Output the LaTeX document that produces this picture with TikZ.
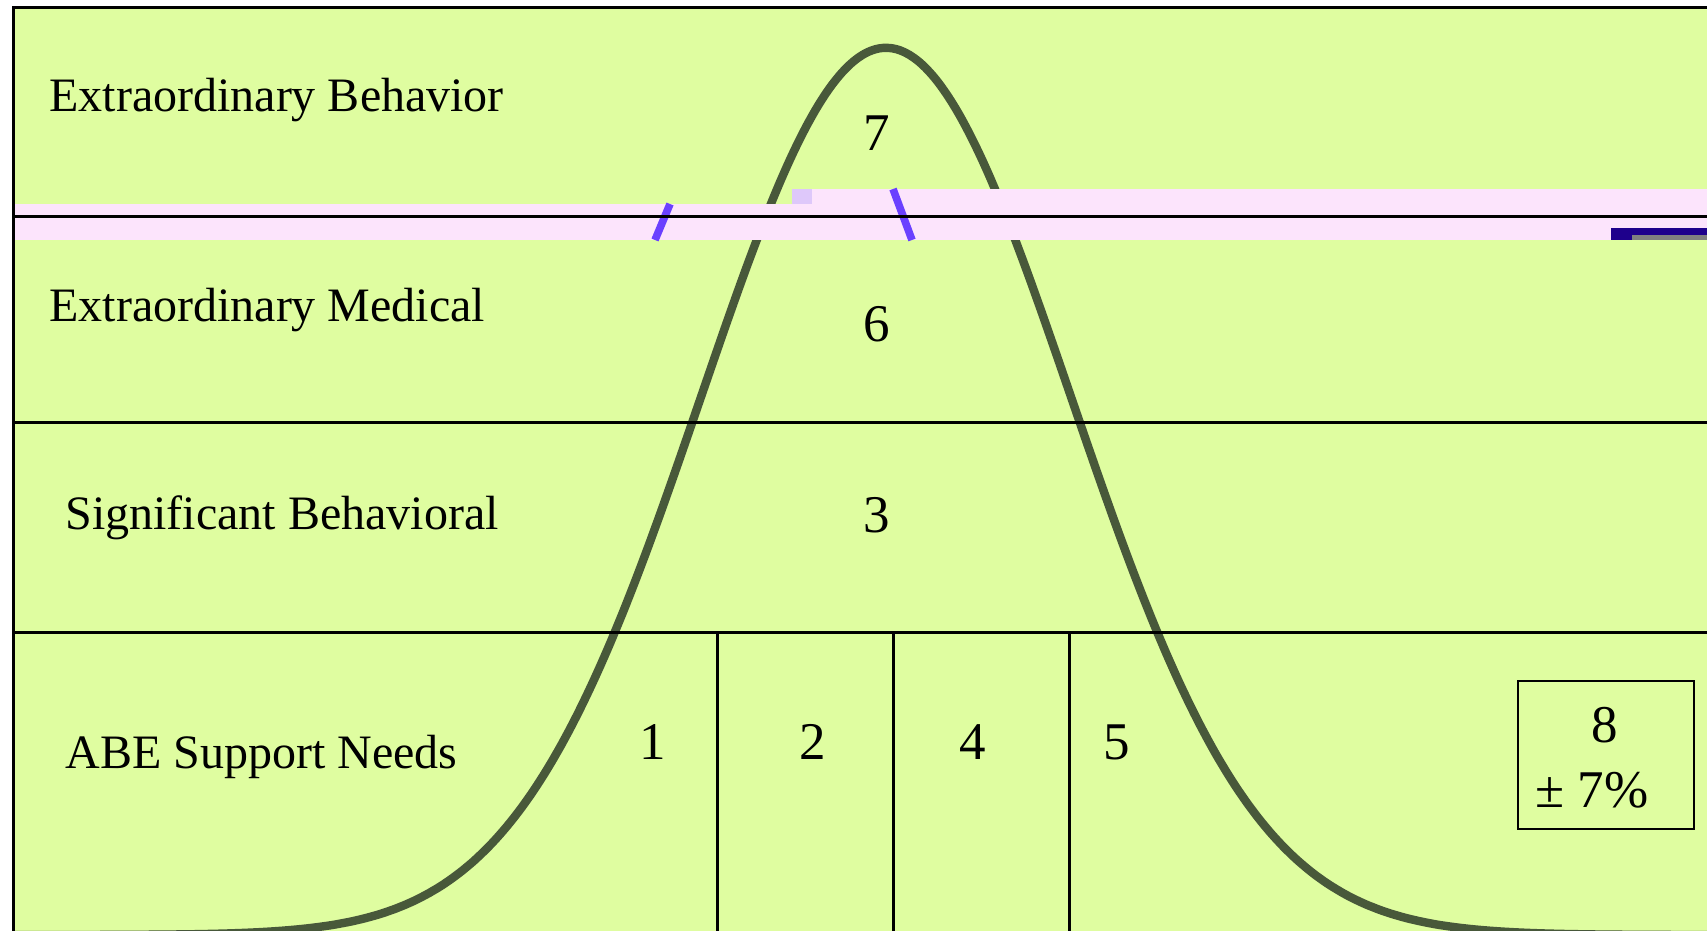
\documentclass[tikz,border=0pt]{standalone}
\usepackage{fontspec}
\setmainfont{Liberation Serif}
\definecolor{bggreen}{RGB}{223,253,160}
\definecolor{bandpink}{RGB}{252,228,252}
\definecolor{curvecol}{RGB}{72,88,58}
\definecolor{bluecurve}{RGB}{106,64,255}
\definecolor{lilac}{RGB}{222,200,250}
\definecolor{darkblue}{RGB}{30,0,140}
\begin{document}
\begin{tikzpicture}[x=0.5pt,y=-0.5pt,
  lbl/.style={anchor=base west, inner sep=0, font=\fontsize{24}{28}\selectfont},
  num/.style={anchor=base, inner sep=0, font=\fontsize{26.5}{32}\selectfont},
  rule/.style={line width=1.5pt, black},
  bluebit/.style={bluecurve, line width=3.8pt}]
\useasboundingbox (0,0) rectangle (1707,931);
\fill[white] (0,0) rectangle (1707,931);
\fill[bggreen] (13,8) rectangle (1707,931);
\begin{scope}
  \clip (13,8) rectangle (1707,931);
  \draw[curvecol, line width=4.2pt, line join=round]
    plot[domain=13:1707, samples=400, smooth]
    (\x,{935-887*exp(-0.5*((\x-886)/185)*((\x-886)/185))});
\end{scope}
% pink band
\fill[bandpink] (13,204) rectangle (1707,240);
\fill[bandpink] (792,189) rectangle (1707,204);
\fill[lilac] (792,189) rectangle (812,204);
\draw[bluebit] (655,240) -- (670,204);
\draw[bluebit] (893,189) -- (912,240);
\fill[darkblue] (1611,228) rectangle (1707,240);
\fill[gray] (1632,235) rectangle (1707,240);
% rules
\draw[rule] (1707,8) -- (13,8) -- (13,931);
\coordinate (l1a) at (13,216); \coordinate (l1b) at (1707,216);
\coordinate (l2a) at (13,422); \coordinate (l2b) at (1707,422);
\coordinate (l3a) at (13,632); \coordinate (l3b) at (1707,632);
\draw[rule] (l1a) -- (l1b);
\draw[rule] (l2a) -- (l2b);
\draw[rule] (l3a) -- (l3b);
\draw[rule] (717,632) -- (717,931);
\draw[rule] (893,632) -- (893,931);
\draw[rule] (1069,632) -- (1069,931);
\node[draw, line width=1.2pt, minimum width=88pt, minimum height=74pt, inner sep=0, anchor=north west] (box8) at (1517,680) {};
% labels
\node[lbl] (eb) at (49,112) {Extraordinary Behavior};
\node[lbl] (em) at (49,321) {Extraordinary Medical};
\node[lbl] (sb) at (65,529) {Significant Behavioral};
\node[lbl] (abe) at (65,768) {ABE Support Needs};
\node[num] (n7) at (877,150) {7};
\node[num] (n6) at (877,341) {6};
\node[num] (n3) at (877,532) {3};
\node[num] (n1) at (653,759) {1};
\node[num] (n2) at (813,759) {2};
\node[num] (n4) at (973,759) {4};
\node[num] (n5) at (1117,759) {5};
\node[num] (n8) at (1605,742) {8};
\node[num, anchor=base west] (pm) at (1535,807) {± 7\%};
\end{tikzpicture}
\end{document}
